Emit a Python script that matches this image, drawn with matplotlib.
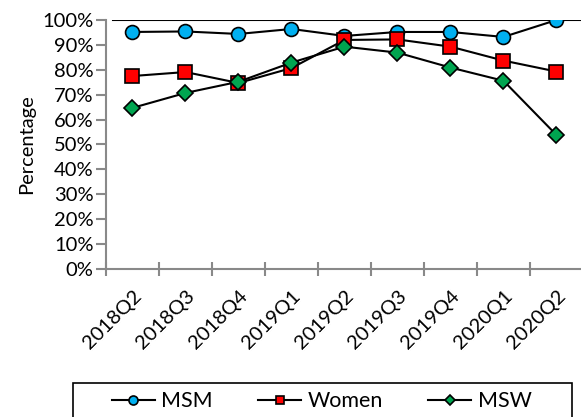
import matplotlib
matplotlib.use("Agg")
import matplotlib.pyplot as plt
from matplotlib.patches import Rectangle
from matplotlib.ticker import PercentFormatter

plt.rcParams['font.family'] = ['Lato', 'DejaVu Sans']

quarters = ['2018Q2', '2018Q3', '2018Q4', '2019Q1', '2019Q2',
            '2019Q3', '2019Q4', '2020Q1', '2020Q2']
msm = [95.2, 95.4, 94.4, 96.4, 93.6, 95.2, 95.2, 93.2, 100.0]
women = [77.5, 79.1, 74.7, 80.7, 92.0, 92.2, 89.3, 83.7, 79.3]
msw = [64.7, 70.7, 75.2, 82.9, 89.3, 86.9, 80.9, 75.6, 53.8]

grey = '#898989'
fs = 14.5

fig = plt.figure(figsize=(5.81, 4.17), dpi=100)
ax = fig.add_axes([0.1824, 0.355, 0.821, 0.597])

x = list(range(len(quarters)))
ax.plot(x, msm, '-o', color='black', lw=1.5, mfc='#00B0F0', mec='black',
        mew=1.2, ms=10, label='MSM', zorder=3)
ax.plot(x, women, '-s', color='black', lw=1.5, mfc='#FF0000', mec='black',
        mew=1.2, ms=9.5, label='Women', zorder=3)
ax.plot(x, msw, '-D', color='black', lw=1.5, mfc='#00A550', mec='black',
        mew=1.2, ms=8.5, label='MSW', zorder=4)

# ligne du haut a 100%
ax.axhline(100, xmin=0.015, color='black', lw=1.5, zorder=2)

ax.set_xlim(-0.5, len(quarters) - 0.5)
ax.set_ylim(0, 100)
ax.set_yticks(range(0, 101, 10))
ax.yaxis.set_major_formatter(PercentFormatter(decimals=0))
ax.set_xticks(x)
ax.set_xticklabels(quarters, rotation=45, ha='right', rotation_mode='anchor')
ax.set_xticks([i - 0.5 for i in range(len(quarters) + 1)], minor=True)
ax.tick_params(axis='x', which='major', length=0, pad=13, labelsize=fs)
ax.tick_params(axis='x', which='minor', direction='inout', length=10,
               color=grey, width=1.5)
ax.tick_params(axis='y', direction='out', length=7, color=grey, width=1.5,
               labelsize=fs, pad=2)

for side in ['top', 'right']:
    ax.spines[side].set_visible(False)
for side in ['left', 'bottom']:
    ax.spines[side].set_color(grey)
    ax.spines[side].set_linewidth(1.5)

ax.set_ylabel('Percentage', fontsize=fs, labelpad=5)

# legende sans cadre + cadre dessine a part
fig.legend(loc='center', bbox_to_anchor=(0.554, 0.038),
           ncol=3, fontsize=15.5, frameon=False, markerscale=0.65,
           handlelength=2.0, columnspacing=2.1, handletextpad=0.3,
           borderaxespad=0, borderpad=0)
fig.patches.append(Rectangle((0.126, -0.01), 0.859, 0.0915,
                             transform=fig.transFigure, fill=False,
                             edgecolor='black', lw=1.2))

fig.savefig('out.png', dpi=100)
